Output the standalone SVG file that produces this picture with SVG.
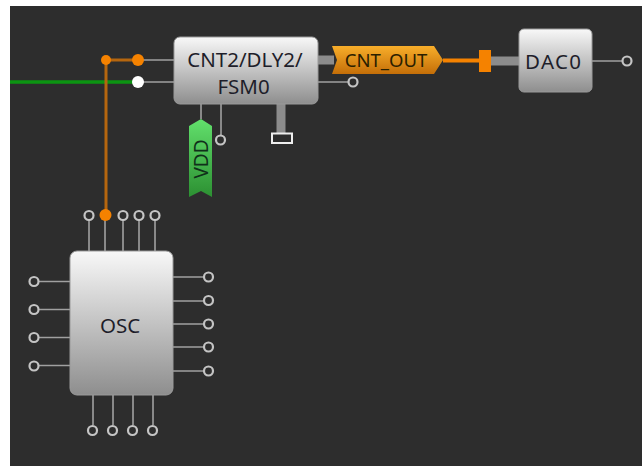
<svg xmlns="http://www.w3.org/2000/svg" width="642" height="466" viewBox="0 0 642 466">
<defs>
<linearGradient id="box" x1="0" y1="0" x2="0" y2="1"><stop offset="0" stop-color="#f8f8f8"/><stop offset="1" stop-color="#8e8e8e"/></linearGradient>
<linearGradient id="grn" x1="0" y1="0" x2="0" y2="1"><stop offset="0" stop-color="#62e06c"/><stop offset="1" stop-color="#2c9032"/></linearGradient>
<linearGradient id="org" x1="0" y1="0" x2="0" y2="1"><stop offset="0" stop-color="#f8ae2a"/><stop offset="1" stop-color="#c46e08"/></linearGradient>
</defs>
<style>
.box{fill:url(#box);stroke:#9a9a9a;stroke-width:1}
.pin{fill:none;stroke:#a0a0a0;stroke-width:1.6}
.thick{fill:none;stroke:#8c8c8c;stroke-width:9}
.port{fill:#2d2d2d;stroke:#c4c4c4;stroke-width:2.200}
.t{font-family:"Noto Sans",Tahoma,sans-serif;font-size:20.500px;fill:#1e1e2a;text-anchor:middle}
</style>
<rect x="10" y="6" width="632" height="460" fill="#2d2d2d"/>
<g id="connectors">
<path class="pin" d="M138 60H174M138 82H174M201 104V119M221 104V136M318 82H349M592 61H622M89 220V251M105 215V251M123 220V251M139 220V251M155 220V251M39 281.500H70M39 309.500H70M39 337.500H70M39 365.500H70M173 277H203M173 301H203M173 324H203M173 347H203M173 371H203M93 395V425M113 395V425M133 395V425M153 395V425"/>
<path class="thick" d="M281 104V133M318 60H334M491 61H519"/>
<path d="M10 82H138" fill="none" stroke="#0c9412" stroke-width="3.500"/>
<path d="M106 215V60H138" fill="none" stroke="#b5660f" stroke-width="3"/>
<path d="M443 60.500H480" fill="none" stroke="#f58200" stroke-width="4"/>
</g>
<g id="cnt"><rect class="box" x="174" y="37" width="144" height="67" rx="6"/>
<text class="t" x="245" y="67">CNT2/DLY2/</text><text class="t" x="243.500" y="94">FSM0</text></g>
<g id="dac"><rect class="box" x="519" y="29" width="73" height="63" rx="5"/><text class="t" x="553" y="69" textLength="56">DAC0</text></g>
<g id="osc"><rect class="box" x="70" y="251" width="103" height="144" rx="7"/><text class="t" x="120" y="333">OSC</text></g>
<g id="vdd"><path d="M189 126L201 119L212 126V197L201 191L189 197Z" fill="url(#grn)"/>
<text class="t" transform="translate(208 159) rotate(-90)" style="fill:#10301a;font-size:19px">VDD</text></g>
<g id="cnt-out"><path d="M332 46H434L443 60L434 74H332L337 60Z" fill="url(#org)"/>
<text class="t" x="386" y="67" style="fill:#2a2000;font-size:18.500px">CNT_OUT</text></g>
<g id="ports">
<circle cx="106" cy="60" r="5" fill="#f58200"/><circle cx="138" cy="60" r="6" fill="#f58200"/><circle cx="138" cy="82" r="6" fill="#fff"/><circle cx="105.500" cy="215" r="6" fill="#f58200"/>
<rect x="479" y="50" width="12" height="22" fill="#f58200"/>
<rect x="272" y="133.500" width="20" height="9.500" fill="#2d2d2d" stroke="#eee" stroke-width="2"/>
<circle class="port" cx="220.500" cy="140" r="4.500"/><circle class="port" cx="353" cy="82" r="4.500"/><circle class="port" cx="627" cy="61" r="4.500"/>
<circle class="port" cx="89" cy="215.500" r="4.500"/><circle class="port" cx="123" cy="215.500" r="4.500"/><circle class="port" cx="139" cy="215.500" r="4.500"/><circle class="port" cx="155" cy="215.500" r="4.500"/>
<circle class="port" cx="34" cy="281.500" r="4.500"/><circle class="port" cx="34" cy="309.500" r="4.500"/><circle class="port" cx="34" cy="337.500" r="4.500"/><circle class="port" cx="34" cy="366" r="4.500"/>
<circle class="port" cx="208.500" cy="277" r="4.500"/><circle class="port" cx="208.500" cy="300.500" r="4.500"/><circle class="port" cx="208.500" cy="324" r="4.500"/><circle class="port" cx="208.500" cy="347" r="4.500"/><circle class="port" cx="208.500" cy="371" r="4.500"/>
<circle class="port" cx="92.500" cy="430.500" r="4.500"/><circle class="port" cx="112.500" cy="430.500" r="4.500"/><circle class="port" cx="132.500" cy="430.500" r="4.500"/><circle class="port" cx="152.500" cy="430.500" r="4.500"/>
</g>
</svg>
